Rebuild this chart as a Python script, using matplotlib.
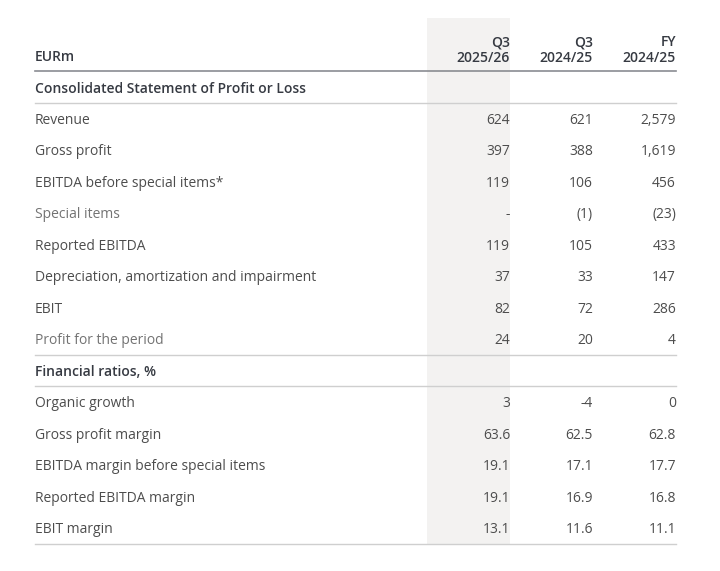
import matplotlib.pyplot as plt
from matplotlib.patches import Rectangle

# Table content
col_heads = [("Q3", "2025/26"), ("Q3", "2024/25"), ("FY", "2024/25")]

section1 = "Consolidated Statement of Profit or Loss"
labels1 = ["Revenue", "Gross profit", "EBITDA before special items*", "Special items",
           "Reported EBITDA", "Depreciation, amortization and impairment", "EBIT",
           "Profit for the period"]
q3_2526_1 = ["624", "397", "119", "-", "119", "37", "82", "24"]
q3_2425_1 = ["621", "388", "106", "(1)", "105", "33", "72", "20"]
fy_2425_1 = ["2,579", "1,619", "456", "(23)", "433", "147", "286", "4"]

section2 = "Financial ratios, %"
labels2 = ["Organic growth", "Gross profit margin", "EBITDA margin before special items",
           "Reported EBITDA margin", "EBIT margin"]
q3_2526_2 = ["3", "63.6", "19.1", "19.1", "13.1"]
q3_2425_2 = ["-4", "62.5", "17.1", "16.9", "11.6"]
fy_2425_2 = ["0", "62.8", "17.7", "16.8", "11.1"]

light_labels = ["Special items", "Profit for the period"]

plt.rcParams['font.family'] = ['Open Sans', 'DejaVu Sans']

fig = plt.figure(figsize=(7.2, 5.71), dpi=100)
ax = fig.add_axes([0, 0, 1, 1])
ax.set_xlim(0, 720)
ax.set_ylim(571, 0)
ax.axis('off')

x_left = 35
x_cols = [510, 593, 676]
x_right = 676
y0 = 87      # centre of first section header row
step = 31.5
dy = 1.8     # visual nudge for text
fs = 10
txt = "#4d4d4d"
txt_light = "#737373"
head = "#363a42"
bw = 'semibold'

# shaded current-quarter column
ax.add_patch(Rectangle((427, 18), 83, 526, color="#f3f2f1", zorder=0, lw=0))

# header
ax.text(x_left, y0 - 31.5 + dy, "EURm", ha='left', va='center', fontsize=fs, weight=bw, color=head)
for x, (a, b) in zip(x_cols, col_heads):
    ax.text(x, y0 - 46.5 + dy, a, ha='right', va='center', fontsize=fs, weight=bw, color=head)
    ax.text(x, y0 - 30.5 + dy, b, ha='right', va='center', fontsize=fs, weight=bw, color=head)
ax.plot([x_left, x_right], [y0 - step / 2] * 2, color="#8a8c92", lw=1.2, zorder=2)

rows = [(section1, None)] + list(zip(labels1, zip(q3_2526_1, q3_2425_1, fy_2425_1))) \
     + [(section2, None)] + list(zip(labels2, zip(q3_2526_2, q3_2425_2, fy_2425_2)))

for i, (label, vals) in enumerate(rows):
    y = y0 + i * step
    if vals is None:
        ax.text(x_left, y + dy, label, ha='left', va='center', fontsize=fs, weight=bw, color=head)
        ax.plot([x_left, x_right], [y + step / 2] * 2, color="#cfcfcf", lw=1, zorder=2)
        if i > 0:
            ax.plot([x_left, x_right], [y - step / 2] * 2, color="#cfcfcf", lw=1, zorder=2)
        continue
    c = txt_light if label in light_labels else txt
    ax.text(x_left, y + dy, label, ha='left', va='center', fontsize=fs, color=c)
    for x, v in zip(x_cols, vals):
        ax.text(x, y + dy, v, ha='right', va='center', fontsize=fs, color=txt)

ax.plot([x_left, x_right], [y0 + (len(rows) - 1) * step + step / 2] * 2,
        color="#cfcfcf", lw=1, zorder=2)

fig.savefig("out.png", dpi=100)
